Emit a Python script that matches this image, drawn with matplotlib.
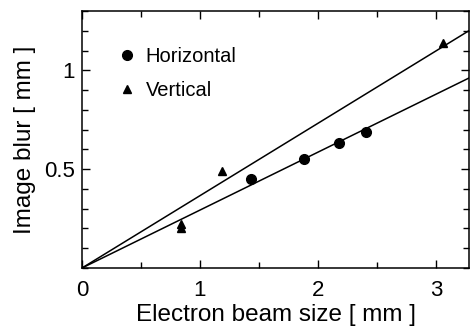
import numpy as np
import matplotlib
matplotlib.use('Agg')
from matplotlib import pyplot as plt
from matplotlib.ticker import MultipleLocator

plt.rcParams['font.family'] = ['Liberation Sans', 'DejaVu Sans']

# data
horiz_x = [1.43, 1.88, 2.18, 2.41]
horiz_y = [0.45, 0.55, 0.63, 0.69]
vert_x = [0.84, 0.84, 1.19, 3.06]
vert_y = [0.225, 0.20, 0.49, 1.14]
fit_slopes = [0.366, 0.293]   # vertical, horizontal

fig = plt.figure(figsize=(4.7, 3.28), dpi=100)
ax = fig.add_axes([82/470, 1 - 268/328, (469 - 82)/470, (268 - 11)/328])

xs = np.array([0.0, 3.3])
for s in fit_slopes:
    ax.plot(xs, s * xs, color='black', lw=1.1)

ax.plot(horiz_x, horiz_y, 'o', color='black', ms=7, label='Horizontal')
ax.plot(vert_x, vert_y, '^', color='black', ms=6, label='Vertical')

ax.set_xlim(0, 3.28)
ax.set_ylim(0, 1.3)
ax.xaxis.set_minor_locator(MultipleLocator(0.5))
ax.yaxis.set_minor_locator(MultipleLocator(0.1))
ax.set_yticks([0.5, 1])
ax.set_yticklabels(['0.5', '1'])
ax.set_xticks([0, 1, 2, 3])
ax.set_xticklabels(['0', '1', '2', '3'])
ax.tick_params(which='both', direction='in', top=True, right=True, labelsize=16)
ax.tick_params(axis='y', pad=5)
ax.tick_params(axis='x', pad=9)
ax.tick_params(which='major', length=6, width=1)
ax.tick_params(which='minor', length=4, width=1)
for sp in ax.spines.values():
    sp.set_linewidth(1.1)

ax.set_xlabel('Electron beam size [ mm ]', fontsize=17.5, labelpad=2)
ax.set_ylabel('Image blur [ mm ]', fontsize=17.5, labelpad=6)

ax.legend(loc='upper left', frameon=False, fontsize=14.5, handletextpad=0.3,
          borderaxespad=0, labelspacing=0.75, bbox_to_anchor=(0.065, 0.89), handlelength=1.2)

fig.savefig('out.png', dpi=100)
